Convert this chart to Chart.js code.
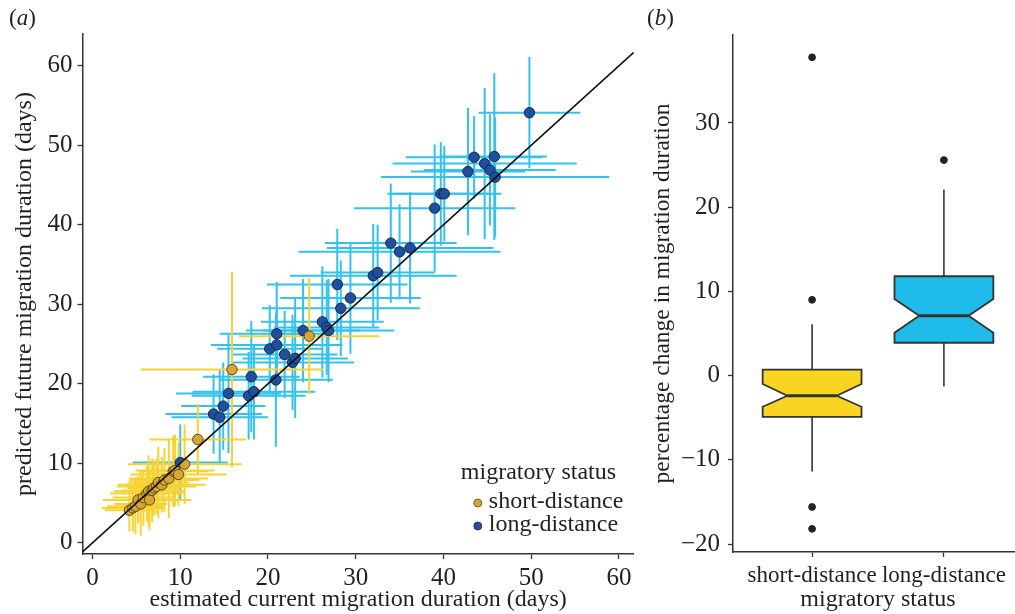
<!DOCTYPE html>
<html>
<head>
<meta charset="utf-8">
<title>Migration duration</title>
<script src="https://cdn.jsdelivr.net/npm/chart.js@4.4.0/dist/chart.umd.min.js"></script>
<style>
    html, body { margin: 0; padding: 0; background: #fff; overflow: hidden; width: 1015px; height: 614px; }
    #wrapA { position: absolute; left: 0; top: 0; width: 640px; height: 614px; }
    #wrapB { position: absolute; left: 640px; top: 0; width: 390px; height: 614px; }
    .panel { position: absolute; top: 5px; font-family: 'Liberation Serif', serif; font-size: 23px; color: #231f20; }
</style>
</head>
<body>
<div id="wrapA"><canvas id="chartA"></canvas></div>
<div id="wrapB"><canvas id="chartB"></canvas></div>
<div class="panel" style="left:9px">(<i>a</i>)</div>
<div class="panel" style="left:647px">(<i>b</i>)</div>

<script>
// Panel (a): estimated current vs predicted future migration duration (days)
const shortCurrent    = [4.2, 4.6, 4.9, 5.2, 5.5, 5.8, 6.2, 6.4, 6.5, 6.8, 7.0, 7.3, 7.5, 7.9, 8.2, 8.7, 9.2, 9.4, 9.8, 10.5, 12.0, 15.9, 24.7];
const shortFuture     = [4.1, 4.4, 4.6, 5.4, 4.9, 5.7, 6.2, 6.5, 5.4, 6.6, 6.9, 7.1, 7.6, 7.3, 7.9, 8.1, 9.0, 9.1, 8.6, 9.9, 13.0, 21.8, 26.0];
const shortCurrentErr = [2.8, 3.5, 3.2, 4, 3, 3.5, 4.2, 4, 4.8, 3.5, 3, 4.5, 3.5, 5, 4, 4.5, 4, 4.5, 5.5, 6.5, 5.5, 10.4, 8];
const shortFutureErr  = [2.6, 3, 3.5, 3, 4, 3.5, 3.5, 4.5, 3.8, 4, 3.5, 3.5, 4.5, 3.5, 4, 5, 4.5, 4.5, 4, 5, 4.5, 12.3, 7.3];

const longCurrent    = [10.0, 13.8, 14.5, 14.9, 15.5, 17.8, 18.1, 18.4, 20.2, 20.9, 21.0, 21.0, 21.9, 22.8, 23.1, 24.0, 26.2, 26.7, 26.9, 27.9,
                        28.3, 29.4, 32.0, 32.5, 34.0, 35.0, 36.2, 39.0, 39.7, 40.1, 42.8, 43.5, 44.7, 45.3, 45.8, 45.9, 49.8];
const longFuture     = [10.1, 16.2, 15.8, 17.2, 18.8, 18.5, 20.9, 19.0, 24.4, 20.5, 26.3, 24.9, 23.7, 22.7, 23.2, 26.7, 27.8, 27.1, 26.7, 32.5,
                        29.5, 30.8, 33.6, 34.0, 37.7, 36.6, 37.1, 42.1, 43.9, 43.9, 46.7, 48.5, 47.7, 46.9, 48.6, 46.0, 54.1];
const longCurrentErr = [5.4, 5.5, 5.5, 4.8, 6, 6.5, 5.5, 7, 6, 6.5, 6.5, 7.5, 6, 7, 6, 6.5, 7, 6, 7.5, 8,
                        9, 8, 9.5, 6.5, 7.5, 11.5, 9.5, 9.2, 5.5, 6.5, 6.5, 7.8, 10.5, 7.5, 6, 13, 5.8];
const longFutureErr  = [4.8, 5, 6, 5.5, 7.5, 5.5, 7, 6, 5.5, 8.4, 6.5, 5, 5.5, 6, 7.5, 6.5, 7, 6, 6.5, 7,
                        6, 7, 6.5, 6, 7.5, 6, 7, 8, 6.5, 6, 8, 5.2, 9.5, 7, 10.5, 7.5, 7];

const ticksA = [0, 10, 20, 30, 40, 50, 60];
const xRangeA = [-1.14, 61.7];
const yRangeA = [-1.4, 64.0];

// Panel (b): percentage change in migration duration
const statusLabels = ['short-distance', 'long-distance'];
const boxQ1       = [-4.9, 3.9];
const boxMedian   = [-2.4, 7.1];
const boxQ3       = [0.7, 11.8];
const notchLow    = [-3.7, 5.1];
const notchHigh   = [-1.0, 9.1];
const whiskerLow  = [-11.4, -1.3];
const whiskerHigh = [6.1, 22.1];
const outlierGroup = [1, 1, 1, 1, 2];
const outlierValue = [37.8, 9.0, -15.6, -18.2, 25.6];
const ticksB = [-20, -10, 0, 10, 20, 30];

const INK = '#231f20';
const FONT = "'Liberation Serif', 'Times New Roman', serif";
Chart.defaults.font.family = FONT;
Chart.defaults.color = INK;

function toPoints(xs, ys) {
    return xs.map((v, i) => ({ x: v, y: ys[i] }));
}

function minusSign(v) {
    return v < 0 ? '\u2212' + Math.abs(v) : String(v);
}

// crossed error bars drawn under the points (long-distance first, short on top)
const errorBars = {
    id: 'errorBars',
    beforeDatasetsDraw(chart) {
        const { ctx, chartArea, scales: { x, y } } = chart;
        ctx.save();
        ctx.beginPath();
        ctx.rect(chartArea.left, chartArea.top, chartArea.width, chartArea.height);
        ctx.clip();
        ctx.lineWidth = 2;
        const withBars = chart.data.datasets.filter(ds => ds.errX).reverse();
        withBars.forEach(ds => {
            ctx.strokeStyle = ds.barColor;
            ds.data.forEach((p, i) => {
                const px = x.getPixelForValue(p.x);
                const py = y.getPixelForValue(p.y);
                ctx.beginPath();
                ctx.moveTo(x.getPixelForValue(p.x - ds.errX[i]), py);
                ctx.lineTo(x.getPixelForValue(p.x + ds.errX[i]), py);
                ctx.moveTo(px, y.getPixelForValue(p.y - ds.errY[i]));
                ctx.lineTo(px, y.getPixelForValue(p.y + ds.errY[i]));
                ctx.stroke();
            });
        });
        ctx.restore();
    }
};

// legend inside the plot, bottom right
const legendInside = {
    id: 'legendInside',
    afterDraw(chart) {
        const { ctx, chartArea: a } = chart;
        ctx.save();
        ctx.fillStyle = INK;
        ctx.textBaseline = 'middle';
        ctx.font = '24px ' + FONT;
        ctx.fillText('migratory status', a.right - 173, a.bottom - 81);
        const items = chart.data.datasets.filter(ds => ds.errX);
        items.forEach((ds, i) => {
            const yy = a.bottom - 52 + i * 23;
            ctx.beginPath();
            ctx.arc(a.right - 156, yy + 1, 4, 0, Math.PI * 2);
            ctx.fillStyle = ds.backgroundColor;
            ctx.fill();
            ctx.lineWidth = 0.8;
            ctx.strokeStyle = ds.borderColor;
            ctx.stroke();
            ctx.fillStyle = INK;
            ctx.fillText(ds.label, a.right - 145, yy);
        });
        ctx.restore();
    }
};

// notched box plots
const BOX_WIDTH = 0.75;
const boxColors = ['#f9d423', '#1fbbea'];
const notchedBoxes = {
    id: 'notchedBoxes',
    beforeDatasetsDraw(chart) {
        const { ctx, scales: { x, y } } = chart;
        ctx.save();
        ctx.strokeStyle = '#333';
        statusLabels.forEach((lab, i) => {
            const c = i + 1;
            const xc = x.getPixelForValue(c);
            const xl = x.getPixelForValue(c - BOX_WIDTH / 2);
            const xr = x.getPixelForValue(c + BOX_WIDTH / 2);
            const nl = x.getPixelForValue(c - BOX_WIDTH / 4);
            const nr = x.getPixelForValue(c + BOX_WIDTH / 4);
            const q1 = y.getPixelForValue(boxQ1[i]);
            const q3 = y.getPixelForValue(boxQ3[i]);
            const md = y.getPixelForValue(boxMedian[i]);
            const nlo = y.getPixelForValue(notchLow[i]);
            const nhi = y.getPixelForValue(notchHigh[i]);

            ctx.lineWidth = 1.6;
            ctx.beginPath();
            ctx.moveTo(xc, y.getPixelForValue(whiskerHigh[i]));
            ctx.lineTo(xc, q3);
            ctx.moveTo(xc, q1);
            ctx.lineTo(xc, y.getPixelForValue(whiskerLow[i]));
            ctx.stroke();

            ctx.beginPath();
            ctx.moveTo(xl, q3);
            ctx.lineTo(xr, q3);
            ctx.lineTo(xr, nhi);
            ctx.lineTo(nr, md);
            ctx.lineTo(xr, nlo);
            ctx.lineTo(xr, q1);
            ctx.lineTo(xl, q1);
            ctx.lineTo(xl, nlo);
            ctx.lineTo(nl, md);
            ctx.lineTo(xl, nhi);
            ctx.closePath();
            ctx.fillStyle = boxColors[i];
            ctx.fill();
            ctx.lineWidth = 1.8;
            ctx.stroke();

            ctx.lineWidth = 3;
            ctx.beginPath();
            ctx.moveTo(nl, md);
            ctx.lineTo(nr, md);
            ctx.stroke();
        });
        ctx.restore();
    }
};

function axisStyle() {
    return {
        grid: { display: true, drawOnChartArea: false, drawTicks: true, tickLength: 5, tickColor: '#333', tickWidth: 1.3 },
        border: { display: true, color: '#333', width: 1.5 }
    };
}

// Panel (a)
new Chart(document.getElementById('chartA'), {
    type: 'scatter',
    data: {
        datasets: [
            {
                label: 'short-distance',
                data: toPoints(shortCurrent, shortFuture),
                errX: shortCurrentErr,
                errY: shortFutureErr,
                barColor: '#f7d232',
                backgroundColor: '#d8a534',
                borderColor: '#5b4a1c',
                borderWidth: 1,
                pointRadius: 5.2,
                order: 1
            },
            {
                label: 'long-distance',
                data: toPoints(longCurrent, longFuture),
                errX: longCurrentErr,
                errY: longFutureErr,
                barColor: '#33c2ec',
                backgroundColor: '#1f4f9e',
                borderColor: '#15264a',
                borderWidth: 1,
                pointRadius: 5.2,
                order: 2
            },
            {
                type: 'line',
                label: '1:1',
                data: [{ x: xRangeA[0], y: xRangeA[0] }, { x: xRangeA[1], y: xRangeA[1] }],
                borderColor: '#111',
                borderWidth: 1.7,
                pointRadius: 0,
                order: 0
            }
        ]
    },
    options: {
        responsive: true,
        maintainAspectRatio: false,
        animation: false,
        layout: { padding: { left: 0, right: 5, top: 34, bottom: 0 } },
        plugins: { legend: { display: false }, tooltip: { enabled: false } },
        scales: {
            x: {
                type: 'linear',
                min: xRangeA[0],
                max: xRangeA[1],
                afterBuildTicks: s => { s.ticks = ticksA.map(v => ({ value: v })); },
                afterFit: s => { s.height = 60; },
                ticks: { font: { size: 25 }, color: INK, padding: 4, maxRotation: 0 },
                title: { display: true, text: 'estimated current migration duration (days)', font: { size: 24 }, color: INK, padding: { top: 0, bottom: 0 } },
                ...axisStyle()
            },
            y: {
                type: 'linear',
                min: yRangeA[0],
                max: yRangeA[1],
                afterBuildTicks: s => { s.ticks = ticksA.map(v => ({ value: v })); },
                afterFit: s => { s.width = 82.5; },
                ticks: { font: { size: 25 }, color: INK, padding: 5 },
                title: { display: true, text: 'predicted future migration duration (days)', font: { size: 24 }, color: INK, padding: { top: 10, bottom: 0 } },
                ...axisStyle()
            }
        }
    },
    plugins: [errorBars, legendInside]
});

// Panel (b)
new Chart(document.getElementById('chartB'), {
    type: 'scatter',
    data: {
        datasets: [{
            label: 'outliers',
            data: toPoints(outlierGroup, outlierValue),
            backgroundColor: '#222',
            borderColor: '#222',
            pointRadius: 3.4
        }]
    },
    options: {
        responsive: true,
        maintainAspectRatio: false,
        animation: false,
        layout: { padding: { left: 0, right: 7, top: 35, bottom: 0 } },
        plugins: { legend: { display: false }, tooltip: { enabled: false } },
        scales: {
            x: {
                type: 'linear',
                min: 0.4,
                max: 2.6,
                afterBuildTicks: s => { s.ticks = statusLabels.map((l, i) => ({ value: i + 1 })); },
                afterFit: s => { s.height = 62; },
                ticks: { font: { size: 23 }, color: INK, padding: 5, maxRotation: 0, autoSkip: false,
                         callback: v => statusLabels[v - 1] },
                title: { display: true, text: 'migratory status', font: { size: 24 }, color: INK, padding: { top: 0, bottom: 0 } },
                ...axisStyle()
            },
            y: {
                type: 'linear',
                min: -20.95,
                max: 40.45,
                afterBuildTicks: s => { s.ticks = ticksB.map(v => ({ value: v })); },
                afterFit: s => { s.width = 93; },
                ticks: { font: { size: 25 }, color: INK, padding: 8, callback: v => minusSign(v) },
                title: { display: true, text: 'percentage change in migration duration', font: { size: 23.5 }, color: INK, padding: { top: 9, bottom: 0 } },
                ...axisStyle()
            }
        }
    },
    plugins: [notchedBoxes]
});
</script>
</body>
</html>
